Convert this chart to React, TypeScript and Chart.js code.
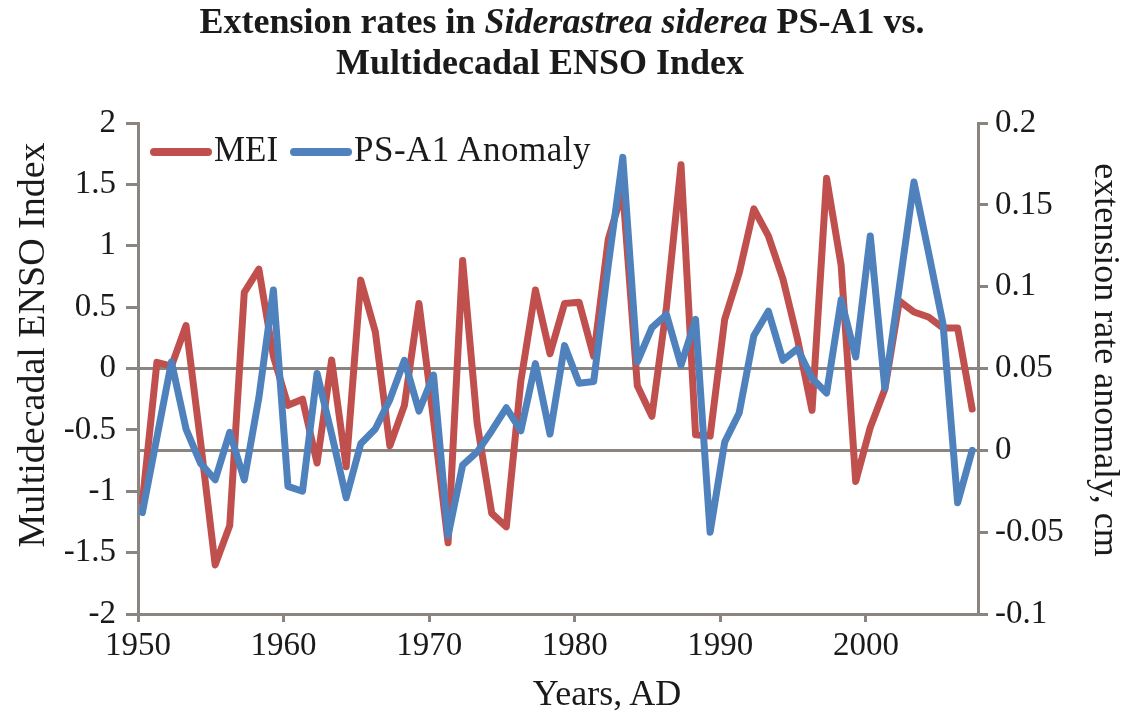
import React, { useEffect, useRef } from "react";
import { Chart, registerables } from "chart.js";

Chart.register(...registerables);

// ---------- data ----------
const years = [
  1950, 1951, 1952, 1953, 1954, 1955, 1956, 1957, 1958, 1959,
  1960, 1961, 1962, 1963, 1964, 1965, 1966, 1967, 1968, 1969,
  1970, 1971, 1972, 1973, 1974, 1975, 1976, 1977, 1978, 1979,
  1980, 1981, 1982, 1983, 1984, 1985, 1986, 1987, 1988, 1989,
  1990, 1991, 1992, 1993, 1994, 1995, 1996, 1997, 1998, 1999,
  2000, 2001, 2002, 2003, 2004, 2005, 2006, 2007,
];

const mei = [
  -1.09, 0.05, 0.02, 0.35, -0.6, -1.6, -1.28, 0.62, 0.81, 0.1,
  -0.3, -0.25, -0.77, 0.07, -0.8, 0.72, 0.3, -0.63, -0.3, 0.53,
  -0.42, -1.42, 0.88, -0.45, -1.18, -1.29, -0.1, 0.64, 0.12, 0.53,
  0.54, 0.1, 1.05, 1.45, -0.14, -0.39, 0.5, 1.66, -0.54, -0.55,
  0.4, 0.78, 1.3, 1.08, 0.73, 0.24, -0.34, 1.55, 0.84, -0.92,
  -0.48, -0.17, 0.55, 0.46, 0.42, 0.33, 0.33, -0.33,
];

const psA1Anomaly = [
  -0.038, 0.008, 0.054, 0.013, -0.008, -0.018, 0.011, -0.018, 0.032, 0.098,
  -0.022, -0.025, 0.047, 0.01, -0.029, 0.004, 0.013, 0.031, 0.055, 0.024,
  0.046, -0.052, -0.009, -0.001, 0.012, 0.026, 0.012, 0.053, 0.01, 0.064,
  0.041, 0.042, 0.113, 0.179, 0.054, 0.075, 0.083, 0.052, 0.08, -0.05,
  0.005, 0.023, 0.07, 0.085, 0.055, 0.062, 0.044, 0.035, 0.092, 0.057,
  0.131, 0.038, 0.1, 0.164, 0.121, 0.077, -0.032, 0.0,
];

const seriesNames = ["MEI", "PS-A1 Anomaly"];
const xTickValues = [1950, 1960, 1970, 1980, 1990, 2000];
const leftRange = [-2, 2];
const leftStep = 0.5;
const rightRange = [-0.1, 0.2];
const rightStep = 0.05;

const titleLine1 = [
  { text: "Extension rates in ", italic: false },
  { text: "Siderastrea siderea", italic: true },
  { text: " PS-A1 vs.", italic: false },
];
const titleLine2 = "Multidecadal ENSO Index";
const xAxisTitle = "Years, AD";
const leftAxisTitle = "Multidecadal ENSO Index";
const rightAxisTitle = "extension rate anomaly, cm";

// ---------- styles ----------
const W = 1130;
const H = 715;
const RED = "#c0504d";
const BLUE = "#4f81bd";
const GRAY = "#8a8580";
const TEXT = "#1a1a1a";
const FONT = "'Liberation Serif', 'Times New Roman', serif";
const SAMPLE_OFFSET = 0.3; // annual samples plotted slightly after the year mark

const fmt = (v: number) => String(Math.round(v * 1000) / 1000);

export default function App() {
  const canvasRef = useRef<HTMLCanvasElement | null>(null);

  useEffect(() => {
    if (!canvasRef.current) return;
    Chart.defaults.font.family = FONT;
    const chart = new Chart(canvasRef.current, {
      type: "line",
      data: {
        datasets: [
          {
            label: seriesNames[0],
            data: years.map((y, i) => ({ x: y + SAMPLE_OFFSET, y: mei[i] })),
            yAxisID: "y",
            borderColor: RED,
            backgroundColor: RED,
            borderWidth: 7,
            pointRadius: 0,
            tension: 0,
            order: 1,
            borderJoinStyle: "round",
            borderCapStyle: "round",
          },
          {
            label: seriesNames[1],
            data: years.map((y, i) => ({ x: y + SAMPLE_OFFSET, y: psA1Anomaly[i] })),
            yAxisID: "y1",
            borderColor: BLUE,
            backgroundColor: BLUE,
            borderWidth: 7,
            pointRadius: 0,
            tension: 0,
            order: 0,
            borderJoinStyle: "round",
            borderCapStyle: "round",
          },
        ],
      },
      options: {
        animation: false,
        responsive: false,
        layout: { padding: { top: 123, left: 0, right: 0, bottom: 0 } },
        plugins: {
          legend: { display: false },
          title: { display: false },
          tooltip: { enabled: false },
        },
        scales: {
          x: {
            type: "linear",
            min: 1950,
            max: 2007.7,
            afterBuildTicks: (s: any) => {
              s.ticks = xTickValues.map((v) => ({ value: v }));
            },
            afterFit: (s: any) => {
              s.height = 101;
            },
            grid: {
              drawOnChartArea: false,
              drawTicks: true,
              tickLength: 8,
              tickColor: GRAY,
              tickWidth: 3,
              color: GRAY,
            },
            border: { display: true, color: GRAY, width: 3 },
            ticks: {
              font: { family: FONT, size: 33 },
              color: TEXT,
              padding: 5,
              maxRotation: 0,
              autoSkip: false,
              callback: (v: any) => String(v),
            },
          },
          y: {
            position: "left",
            min: leftRange[0],
            max: leftRange[1],
            afterFit: (s: any) => {
              s.width = 138;
            },
            grid: {
              drawOnChartArea: true,
              drawTicks: true,
              tickLength: 12,
              tickColor: GRAY,
              tickWidth: 3,
              lineWidth: 3,
              color: (ctx: any) =>
                ctx.tick && Math.abs(ctx.tick.value) < 1e-9 ? GRAY : "rgba(0,0,0,0)",
            },
            border: { display: true, color: GRAY, width: 3 },
            ticks: {
              stepSize: leftStep,
              font: { family: FONT, size: 33 },
              color: TEXT,
              padding: 10,
              callback: (v: any) => fmt(Number(v)),
            },
          },
          y1: {
            position: "right",
            min: rightRange[0],
            max: rightRange[1],
            afterFit: (s: any) => {
              s.width = W - 978;
            },
            grid: {
              drawOnChartArea: true,
              drawTicks: true,
              tickLength: 10,
              tickColor: GRAY,
              tickWidth: 3,
              lineWidth: 3,
              color: (ctx: any) =>
                ctx.tick && Math.abs(ctx.tick.value) < 1e-9 ? GRAY : "rgba(0,0,0,0)",
            },
            border: { display: true, color: GRAY, width: 3 },
            ticks: {
              stepSize: rightStep,
              font: { family: FONT, size: 33 },
              color: TEXT,
              padding: 7,
              callback: (v: any) => fmt(Number(v)),
            },
          },
        },
      },
    } as any);
    return () => chart.destroy();
  }, []);

  const base: React.CSSProperties = {
    position: "absolute",
    fontFamily: FONT,
    color: TEXT,
    whiteSpace: "nowrap",
    margin: 0,
  };

  return (
    <div
      style={{
        position: "fixed",
        left: 0,
        top: 0,
        width: W,
        height: H,
        background: "#ffffff",
        overflow: "hidden",
      }}
    >
      <canvas ref={canvasRef} width={W} height={H} style={{ position: "absolute", left: 0, top: 0, width: W, height: H }} />

      {/* title */}
      <div
        style={{
          ...base,
          left: 562 - 500,
          top: 1,
          width: 1000,
          textAlign: "center",
          fontSize: 36,
          lineHeight: "40px",
          fontWeight: "bold",
        }}
      >
        {titleLine1.map((p, i) =>
          p.italic ? <i key={i}>{p.text}</i> : <span key={i}>{p.text}</span>
        )}
      </div>
      <div
        style={{
          ...base,
          left: 540 - 500,
          top: 42,
          width: 1000,
          textAlign: "center",
          fontSize: 36,
          lineHeight: "40px",
          fontWeight: "bold",
        }}
      >
        {titleLine2}
      </div>

      {/* legend */}
      <div style={{ position: "absolute", left: 150, top: 148, width: 62, height: 8, borderRadius: 4, background: RED }} />
      <div style={{ ...base, left: 214, top: 132, fontSize: 35, lineHeight: "35px" }}>{seriesNames[0]}</div>
      <div style={{ position: "absolute", left: 290, top: 148, width: 62, height: 8, borderRadius: 4, background: BLUE }} />
      <div style={{ ...base, left: 354, top: 132, fontSize: 35, lineHeight: "35px", letterSpacing: "0.5px" }}>
        {seriesNames[1]}
      </div>

      {/* axis titles */}
      <div
        style={{
          ...base,
          left: 607 - 150,
          top: 675,
          width: 300,
          textAlign: "center",
          fontSize: 36,
          lineHeight: "36px",
        }}
      >
        {xAxisTitle}
      </div>
      <div
        style={{
          ...base,
          left: 31 - 250,
          top: 345 - 19,
          width: 500,
          height: 38,
          textAlign: "center",
          fontSize: 38,
          lineHeight: "38px",
          transform: "rotate(-90deg)",
          transformOrigin: "50% 50%",
        }}
      >
        {leftAxisTitle}
      </div>
      <div
        style={{
          ...base,
          left: 1107 - 250,
          top: 360 - 18,
          width: 500,
          height: 36,
          textAlign: "center",
          fontSize: 36,
          lineHeight: "36px",
          transform: "rotate(90deg)",
          transformOrigin: "50% 50%",
        }}
      >
        {rightAxisTitle}
      </div>
    </div>
  );
}
